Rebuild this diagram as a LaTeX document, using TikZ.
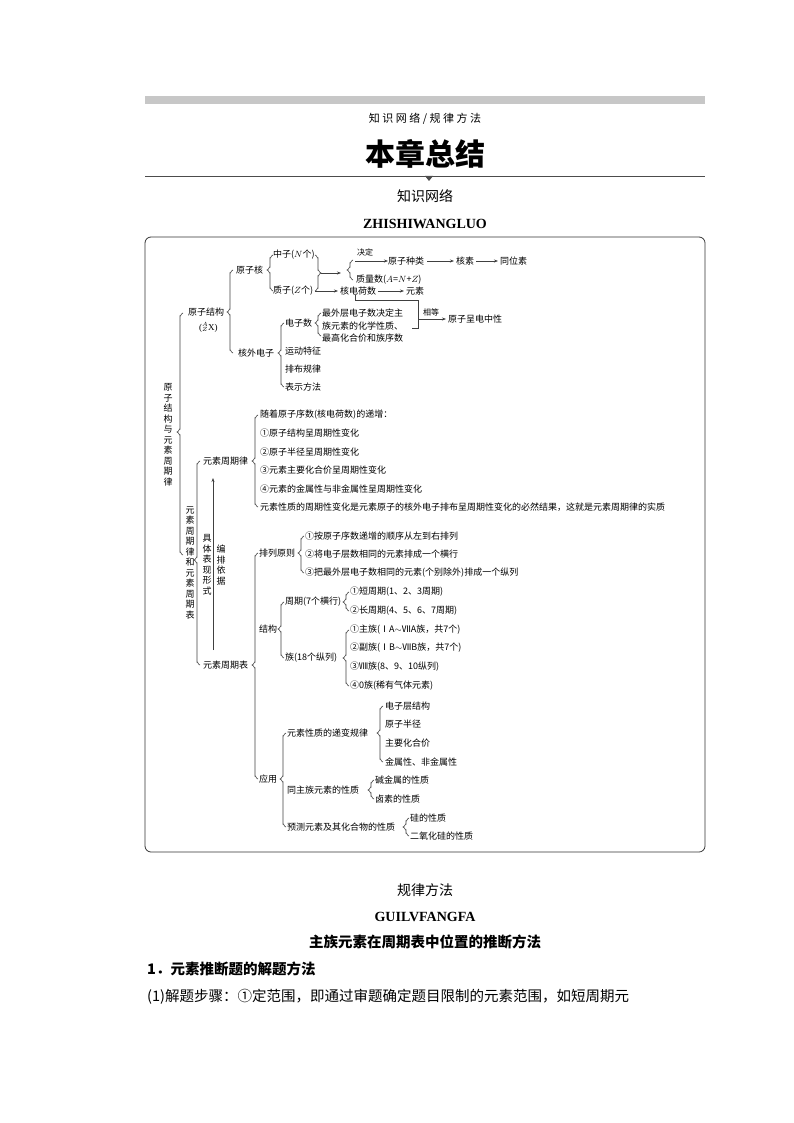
\documentclass[tikz,border=0pt]{standalone}
\usepackage{fontspec}
\setmainfont{Liberation Serif}
\newfontfamily\cjk{Noto Sans CJK SC}
\usetikzlibrary{arrows.meta}
\newcommand\cbr[4]{\draw[brl] (#1+3,#2) to[out=180,in=-90] (#1,#2+3) -- (#1,#3-3) to[out=90,in=0] (#1-3,#3) to[out=0,in=-90] (#1,#3+3) -- (#1,#4-3) to[out=90,in=180] (#1+3,#4);}
\newcommand\rbr[4]{\draw[brl] (#1-3,#2) to[out=0,in=-90] (#1,#2+3) -- (#1,#3-3) to[out=90,in=180] (#1+3,#3) to[out=180,in=-90] (#1,#3+3) -- (#1,#4-3) to[out=90,in=0] (#1-3,#4);}
\begin{document}
\begin{tikzpicture}[x=1pt,y=-1pt,
  t/.style={anchor=west,inner sep=0pt,font=\cjk\fontsize{9}{11}\selectfont},
  vt/.style={inner sep=0pt,align=center,font=\cjk\fontsize{9}{10.5}\selectfont},
  brl/.style={draw=black!75,line width=0.6pt},
  ar/.style={draw=black!75,line width=0.6pt,-{Stealth[length=4pt,width=3pt]}},
  ln/.style={draw=black!75,line width=0.6pt}]
\useasboundingbox (0,0) rectangle (794,1123);
% header
\fill[black!22] (145,96) rectangle (705,104);
\node[inner sep=0pt,font=\cjk\fontsize{11}{13}\selectfont] (h1) at (425,119) {知 识 网 络 / 规 律 方 法};
\node[inner sep=0pt,font=\cjk\bfseries\fontsize{30}{32}\selectfont] (h2) at (425,154) {本章总结};
\draw[black!70,line width=0.7pt] (145,176) -- (705,176);
\fill[black!70] (425,176) -- (433,176) -- (429,181) -- cycle;
\node[inner sep=0pt,font=\cjk\fontsize{14}{16}\selectfont] (h3) at (425,196) {知识网络};
\node[inner sep=0pt,font=\bfseries\fontsize{14}{16}\selectfont] (h4) at (425,224) {ZHISHIWANGLUO};
\draw[black!80,line width=0.8pt,rounded corners=6pt] (145,237) rectangle (705,852);
% left big
\node[vt] (L0) at (168,435) {原\\子\\结\\构\\与\\元\\素\\周\\期\\律};
\cbr{180}{313}{432}{555}
\node[t] (A) at (188,312) {原子结构};
\node[t,font=\fontsize{9}{10}\selectfont] at (199,327) {(${}^{A}_{Z}$X)};
\node[vt,anchor=north] (B) at (190,506) {元\\素\\周\\期\\律\\和\\元\\素\\周\\期\\表};
% atomic structure
\cbr{230}{270}{312}{353}
\node[t] (nuc) at (236,270) {原子核};
\node[t] (ext) at (238,353) {核外电子};
\cbr{270}{255}{270}{291}
\node[t] (n) at (273,255) {中子($N$个)};
\node[t] (p) at (273,291) {质子($Z$个)};
\rbr{318}{255}{273}{291}
\coordinate (r1) at (321,273);
\coordinate (c1) at (341,273);
\draw[ar] (r1) -- (c1);
\cbr{350}{260}{270}{280}
\node[t] (kind) at (388,261) {原子种类};
\node[t,font=\cjk\fontsize{8}{9}\selectfont] at (357,252) {决定};
\coordinate (d0) at (355,261);
\draw[ar] (d0) -- (kind.west);
\node[t] (nuclide) at (456,261) {核素};
\node[t] (iso) at (500,261) {同位素};
\draw[ar] (kind.east)++(3,0) -- ([xshift=-2pt]nuclide.west);
\draw[ar] ([xshift=2pt]nuclide.east) -- ([xshift=-2pt]iso.west);
\node[t] (mass) at (356,280) {质量数($A$=$N$+$Z$)};
\node[t] (charge) at (340,291) {核电荷数};
\node[t] (elem) at (406,291) {元素};
\draw[ar] (p.east)++(2,0) -- ([xshift=-2pt]charge.west);
\draw[ar] ([xshift=2pt]charge.east) -- ([xshift=-2pt]elem.west);
\coordinate (k1) at (355,300);
\coordinate (k2) at (418,300);
\coordinate (k3) at (418,328);
\coordinate (k4) at (412,328);
\draw[ln] (charge.south -| k1) -- (k1) -- (k2) -- (k3) -- (k4);
\node[t] (neu) at (448,319) {原子呈电中性};
\node[t,font=\cjk\fontsize{8}{9}\selectfont] at (423,312) {相等};
\draw[ar] (418,319) -- ([xshift=-2pt]neu.west);
\cbr{281}{323}{353}{387}
\node[t] (en) at (285,323) {电子数};
\cbr{318}{313}{323}{336}
\node[t] at (322,313) {最外层电子数决定主};
\node[t] at (322,326) {族元素的化学性质、};
\node[t] at (322,338) {最高化合价和族序数};
\node[t] at (285,351) {运动特征};
\node[t] at (285,369) {排布规律};
\node[t] at (285,387) {表示方法};
% periodic law
\cbr{197}{461}{560}{665}
\node[t] (law) at (203,461) {元素周期律};
\node[t] (tab) at (203,665) {元素周期表};
\cbr{255}{415}{461}{507}
\node[t] at (260,415) {随着原子序数(核电荷数)的递增：};
\node[t] at (260,433) {①原子结构呈周期性变化};
\node[t] at (260,452) {②原子半径呈周期性变化};
\node[t] at (260,470) {③元素主要化合价呈周期性变化};
\node[t] at (260,489) {④元素的金属性与非金属性呈周期性变化};
\node[t] at (260,507) {元素性质的周期性变化是元素原子的核外电子排布呈周期性变化的必然结果，这就是元素周期律的实质};
\coordinate (up0) at (213,650);
\coordinate (up1) at (213,478);
\draw[ar] (up0) -- (up1);
\node[vt,fill=white,inner sep=0.5pt] at (207,565) {具\\体\\表\\现\\形\\式};
\node[vt,fill=white,inner sep=0.5pt] at (221,565) {编\\排\\依\\据};
% table
\cbr{255}{553}{665}{779}
\node[t] at (259,553) {排列原则};
\cbr{301}{536}{553}{573}
\node[t] at (305,536) {①按原子序数递增的顺序从左到右排列};
\node[t] at (305,554) {②将电子层数相同的元素排成一个横行};
\node[t] at (305,573) {③把最外层电子数相同的元素(个别除外)排成一个纵列};
\node[t] at (259,629) {结构};
\cbr{281}{602}{629}{658}
\node[t] at (285,602) {周期(7个横行)};
\cbr{346}{592}{602}{611}
\node[t] at (350,592) {①短周期(1、2、3周期)};
\node[t] at (350,611) {②长周期(4、5、6、7周期)};
\node[t] at (285,658) {族(18个纵列)};
\cbr{346}{630}{658}{686}
\node[t] at (350,630) {①主族(ⅠA$\sim$ⅦA族，共7个)};
\node[t] at (350,648) {②副族(ⅠB$\sim$ⅦB族，共7个)};
\node[t] at (350,667) {③Ⅷ族(8、9、10纵列)};
\node[t] at (350,686) {④0族(稀有气体元素)};
\node[t] at (259,779) {应用};
\cbr{283}{733}{779}{827}
\node[t] at (287,733) {元素性质的递变规律};
\cbr{380}{706}{733}{762}
\node[t] at (385,706) {电子层结构};
\node[t] at (385,724) {原子半径};
\node[t] at (385,743) {主要化合价};
\node[t] at (385,762) {金属性、非金属性};
\node[t] at (287,790) {同主族元素的性质};
\cbr{371}{780}{790}{799}
\node[t] at (375,780) {碱金属的性质};
\node[t] at (375,799) {卤素的性质};
\node[t] at (287,827) {预测元素及其化合物的性质};
\cbr{406}{818}{827}{836}
\node[t] at (410,818) {硅的性质};
\node[t] at (410,836) {二氧化硅的性质};
% bottom
\node[inner sep=0pt,font=\cjk\fontsize{14}{16}\selectfont] (b1) at (425,890) {规律方法};
\node[inner sep=0pt,font=\bfseries\fontsize{14}{16}\selectfont] (b2) at (425,917) {GUILVFANGFA};
\node[inner sep=0pt,font=\cjk\bfseries\fontsize{14.5}{16}\selectfont] (b3) at (425,942) {主族元素在周期表中位置的推断方法};
\node[anchor=west,inner sep=0pt,font=\cjk\bfseries\fontsize{14.5}{16}\selectfont] (b4) at (147,969) {1．元素推断题的解题方法};
\node[anchor=west,inner sep=0pt,font=\cjk\fontsize{14.5}{16}\selectfont] (b5) at (147,997) {(1)解题步骤：①定范围，即通过审题确定题目限制的元素范围，如短周期元};
\end{tikzpicture}
\end{document}
